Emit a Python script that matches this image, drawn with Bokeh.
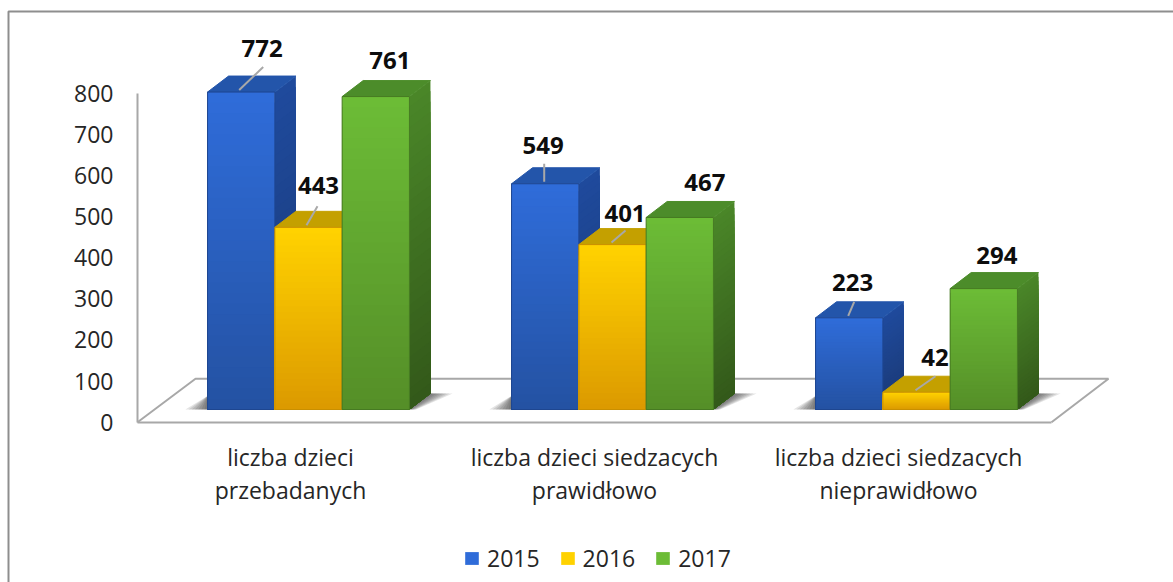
from bokeh.plotting import figure
from bokeh.embed import file_html
from bokeh.resources import INLINE
from bokeh.models import (FixedTicker, Legend, LegendItem, LinearAxis, Range1d)
from bokeh.core.properties import value

categories = ["liczba dzieci\nprzebadanych", "liczba dzieci siedzacych\nprawidłowo", "liczba dzieci siedzacych\nnieprawidłowo"]
series_names = ["2015", "2016", "2017"]
values_2015 = [772, 549, 223]
values_2016 = [443, 401, 42]
values_2017 = [761, 467, 294]
y_ticks = [0, 100, 200, 300, 400, 500, 600, 700, 800]

all_values = [values_2015, values_2016, values_2017]
front_top = ["#2f6cd9", "#ffd200", "#6cbc36"]
front_bot = ["#2452a3", "#dc9a00", "#558f28"]
side_top = ["#1f4a9c", "#c09c00", "#4a8628"]
side_bot = ["#1a3a78", "#a87c00", "#33591a"]
cap_col = ["#2355aa", "#c4a000", "#4c8c2a"]
seam_col = ["#1e4690", "#c98f00", "#467a22"]

PX_X = 304.0
PX_Y = 0.4112
W, H = 1173, 582
AXIS_X = 137
FX0, FY0 = 290, 421.7


def X(px):
    return px / PX_X


def Y(px):
    return px / PX_Y


p = figure(width=W, height=H, output_backend="svg", toolbar_location=None,
           x_range=Range1d(X(-FX0), X(W - FX0)), y_range=Range1d(Y(FY0 - H), Y(FY0)),
           min_border=0, x_axis_type=None, y_axis_type=None, outline_line_color=None,
           background_fill_color="white", border_fill_color="white")
p.grid.visible = False

FONT = "Open Sans"
GREY = "#a8a8a8"
DARK = "#262626"
x_left = X(AXIS_X - FX0)

yaxis = LinearAxis(ticker=FixedTicker(ticks=y_ticks), bounds=(0, 800), fixed_location=x_left,
                   axis_line_color=GREY, axis_line_width=2,
                   major_tick_line_color=None, minor_tick_line_color=None,
                   major_label_text_font=FONT, major_label_text_font_size="23px",
                   major_label_text_color=DARK, major_label_standoff=18)
p.add_layout(yaxis, "left")

xaxis = LinearAxis(ticker=FixedTicker(ticks=[0, 1, 2]), fixed_location=0,
                   major_label_overrides={i: c for i, c in enumerate(categories)},
                   bounds=(x_left, X(1051 - FX0)),
                   axis_line_color=GREY, axis_line_width=2,
                   major_tick_line_color=None, minor_tick_line_color=None,
                   major_label_text_font=FONT, major_label_text_font_size="23px",
                   major_label_text_line_height=1.02,
                   major_label_text_color=DARK, major_label_standoff=13)
p.add_layout(xaxis, "below")

# chart-area border: left and top edges only, running off the page
p.line([X(8 - FX0), X(8 - FX0), X(W - FX0)], [Y(FY0 - H), Y(FY0 - 11), Y(FY0 - 11)],
       line_color="#8e8e8e", line_width=2)

# floor outline
p.line([x_left, X(195 - FX0), X(1108 - FX0), X(1051 - FX0)],
       [0, Y(43.5), Y(43.5), 0], line_color=GREY, line_width=2)

BASE = Y(12.7)
DX, DY = X(21), Y(16)
BW = X(67.3)
SHIFT = X(18)
N = 30


def lerp(a, b, t):
    ca = [int(a[i:i + 2], 16) for i in (1, 3, 5)]
    cb = [int(b[i:i + 2], 16) for i in (1, 3, 5)]
    return "#%02x%02x%02x" % tuple(round(u + (v - u) * t) for u, v in zip(ca, cb))


legend_rs = {}
for g in range(3):
    gx = g + SHIFT
    # floor shadows
    l = gx - 1.5 * BW
    r = gx + 1.5 * BW
    for k in range(7):
        ext = X(3 + (6 - k) * 3.2)
        p.patch([l, l - ext, l], [BASE, BASE, BASE + DY * 0.85], fill_color="#303030", fill_alpha=0.13, line_color=None)
        p.patch([r, r + DX, r + DX + ext, r + ext * 0.3], [BASE, BASE + DY, BASE + DY, BASE],
                fill_color="#303030", fill_alpha=0.13, line_color=None)
    for s in range(3):
        v = all_values[s][g]
        x0 = gx + (s - 1.5) * BW
        x1 = x0 + BW
        top = BASE + v
        # side face: nested slices, painted top-down, so no seams appear
        xs, ys, cols = [], [], []
        for i in range(N):
            a = BASE + v * (1 - i / N)
            xs.append([x1, x1 + DX, x1 + DX, x1])
            ys.append([a, a + DY, BASE + DY, BASE])
            cols.append(lerp(side_top[s], side_bot[s], i / (N - 1)))
        p.patches(xs, ys, fill_color=cols, line_color=None)
        # cap
        p.patch([x0, x0 + DX, x1 + DX, x1], [top, top + DY, top + DY, top],
                fill_color=cap_col[s], line_color=cap_col[s], line_width=1)
        # front face
        tops = [BASE + v * (1 - i / N) for i in range(N)]
        cols = [lerp(front_top[s], front_bot[s], i / (N - 1)) for i in range(N)]
        r_front = p.quad(left=[x0] * N, right=[x1] * N, top=tops, bottom=[BASE] * N,
                         fill_color=cols, line_color=None)
        p.quad(left=[x0], right=[x1], top=[top], bottom=[BASE], fill_color=None,
               line_color=seam_col[s], line_width=1)
        legend_rs.setdefault(s, r_front)

# leader lines and value labels (pixel offsets from each bar's top-centre)
leaders = {(0, 0): (-2, 23, 24), (1, 0): (-2, 19, 11), (0, 1): (-1, 18, 0),
           (1, 1): (-1, 12, 14), (0, 2): (-1, 14, 6), (1, 2): (-1, 14, 20)}
label_dx = {(0, 0): 21, (1, 0): 10, (2, 0): 14, (0, 1): -2, (1, 1): 12.5, (2, 1): 25,
            (0, 2): 3.5, (1, 2): 18.5, (2, 2): 13}
label_up = {(0, 0): 44, (1, 0): 42, (2, 0): 36, (0, 1): 38, (1, 1): 31, (2, 1): 35,
            (0, 2): 35, (1, 2): 35, (2, 2): 33}
lx, ly, lt = [], [], []
for g in range(3):
    gx = g + SHIFT
    for s in range(3):
        v = all_values[s][g]
        cx = gx + (s - 1) * BW
        top = BASE + v
        lx.append(cx + X(label_dx[(s, g)]))
        ly.append(top + Y(label_up[(s, g)]))
        lt.append(str(v))
        if (s, g) in leaders:
            d0, up, dxx = leaders[(s, g)]
            p.line([cx + X(d0), cx + X(d0 + dxx)], [top + Y(2), top + Y(2 + up)], line_color=GREY, line_width=2)
p.text(lx, ly, text=lt, text_font=value(FONT), text_font_style="bold", text_font_size="24px",
       text_color="#0d0d0d", text_align="center", text_baseline="middle")

legend = Legend(items=[LegendItem(label=series_names[s], renderers=[legend_rs[s]], index=0) for s in range(3)],
                orientation="horizontal", location=(463, 8),
                border_line_color=None, background_fill_alpha=0,
                glyph_width=17, glyph_height=16, label_standoff=7, spacing=19, margin=0, padding=0,
                label_text_font=FONT, label_text_font_size="23px", label_text_color=DARK)
p.add_layout(legend, "center")

open("out.html", "w").write(file_html(p, INLINE))
